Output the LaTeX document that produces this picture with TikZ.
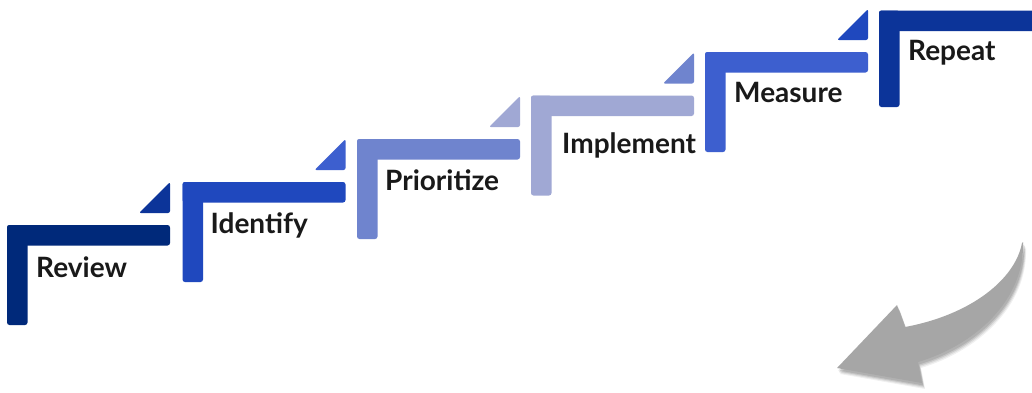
\documentclass[tikz,border=0pt]{standalone}
\usepackage{fontspec}
\setmainfont{Lato}
\definecolor{cA}{HTML}{00297A}
\definecolor{cB}{HTML}{1F48BE}
\definecolor{cC}{HTML}{6F84CE}
\definecolor{cD}{HTML}{A0A8D4}
\definecolor{cE}{HTML}{3D5FCF}
\definecolor{cF}{HTML}{0C3499}
\definecolor{arrowgray}{HTML}{A6A6A6}
\tikzset{
  bar/.style={rounded corners=2.5pt},
  tri/.style={rounded corners=2pt},
  steplabel/.style={anchor=base west, inner sep=0pt, font=\fontsize{28}{30}\selectfont\bfseries, text=black!90},
}
\newcommand{\stepL}[4]{% x, y, colour, name
  \fill[bar,#3] (#1,#2) rectangle ++(163,20.5);
  \fill[bar,#3] (#1,#2) rectangle ++(20.5,100);
  \coordinate (#4) at (#1,#2);
}
\newcommand{\stepT}[3]{% right x, top y of step, colour
  \fill[tri,#3] (#1-31,#2-12) -- (#1,#2-43) -- (#1,#2-12) -- cycle;
}
\begin{document}
\begin{tikzpicture}[x=1pt,y=-1pt]
\useasboundingbox (0,0) rectangle (1032,392);
\fill[white] (0,0) rectangle (1032,392);
\begin{scope}
\clip (0,0) rectangle (1032,392);
% steps
\stepL{7}{225}{cA}{s1}
\stepL{182.5}{182}{cB}{s2}
\stepL{357}{139}{cC}{s3}
\stepL{531}{95.5}{cD}{s4}
\stepL{705}{52}{cE}{s5}
\fill[bar,cF] (879,10.5) rectangle (1045,31);
\fill[bar,cF] (879,10.5) rectangle ++(20.5,96.5);
\coordinate (s6) at (879,10.5);
% triangles
\stepT{170}{225}{cF}
\stepT{345.5}{182}{cE}
\stepT{520}{139}{cD}
\stepT{694}{95.5}{cC}
\stepT{868}{52}{cB}
% labels
\node[steplabel] (l1) at ([shift={(29,52)}]s1) {Review};
\node[steplabel] (l2) at ([shift={(28,51)}]s2) {Identify};
\node[steplabel] (l3) at ([shift={(28,51)}]s3) {Prioritize};
\node[steplabel] (l4) at ([shift={(31,58)}]s4) {Implement};
\node[steplabel] (l5) at ([shift={(29,50)}]s5) {Measure};
\node[steplabel] (l6) at ([shift={(29,49.5)}]s6) {Repeat};
% curved arrow with soft shadow
\foreach \o/\op in {5/0.06,4/0.08,3/0.10,2/0.10} {
  \fill[black,opacity=\op,shift={(\o*0.6,\o*1.2)}]
    (1022,243) .. controls (1015,280) and (970,315) .. (905,327)
    -- (897,305) -- (837,368) -- (922,383) -- (918,362)
    .. controls (975,345) and (1025,300) .. (1023,242) -- cycle;
}
\fill[arrowgray]
  (1022,243) .. controls (1015,280) and (970,315) .. (905,327)
  -- (897,305) -- (837,368) -- (922,383) -- (918,362)
  .. controls (975,345) and (1025,300) .. (1023,242) -- cycle;
\end{scope}
\end{tikzpicture}
\end{document}
